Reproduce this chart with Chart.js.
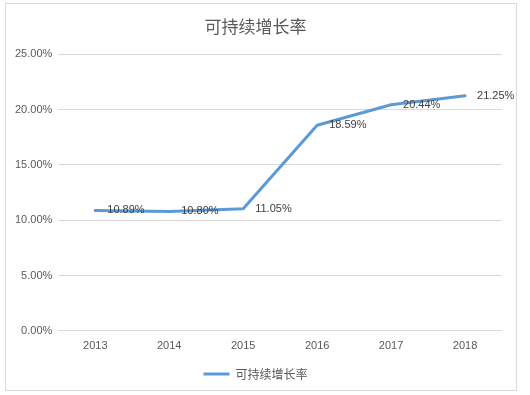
<!DOCTYPE html>
<html>
<head>
<meta charset="utf-8">
<script src="https://cdn.jsdelivr.net/npm/chart.js@4.4.1/dist/chart.umd.min.js"></script>
<style>
  html, body { margin: 0; padding: 0; background: #fff; }
  #box { position: absolute; left: 5px; top: 3px; width: 510px; height: 386px; border: 1px solid #d9d9d9; }
</style>
</head>
<body>
<div id="box"><canvas id="grafico" width="510" height="386"></canvas></div>
<script>
const anos = ['2013', '2014', '2015', '2016', '2017', '2018'];
const taxas = [10.89, 10.80, 11.05, 18.59, 20.44, 21.25];
const titulo = '可持续增长率';

const corTexto = '#595959';
const corLinha = '#5b9bd5';
const fonteNum = "'Liberation Sans', 'Noto Sans CJK SC', sans-serif";
const fonteCJK = "'Noto Sans CJK SC', sans-serif";

// rótulos à direita de cada ponto
const rotulos = {
    id: 'rotulos',
    afterDatasetsDraw(chart) {
        const ctx = chart.ctx;
        const meta = chart.getDatasetMeta(0);
        ctx.save();
        ctx.font = '11px ' + fonteNum;
        ctx.fillStyle = '#404040';
        ctx.textAlign = 'left';
        ctx.textBaseline = 'middle';
        meta.data.forEach((p, i) => {
            ctx.fillText(taxas[i].toFixed(2) + '%', p.x + 12, p.y);
        });
        ctx.restore();
    }
};

new Chart(document.getElementById('grafico'), {
    type: 'line',
    data: {
        labels: anos,
        datasets: [{
            label: titulo,
            data: taxas,
            borderColor: corLinha,
            backgroundColor: corLinha,
            borderWidth: 3,
            pointRadius: 0,
            tension: 0,
            borderJoinStyle: 'round',
            borderCapStyle: 'round'
        }]
    },
    options: {
        responsive: false,
        animation: false,
        layout: { padding: { left: 3, right: 14, top: 0, bottom: 0 } },
        scales: {
            x: {
                offset: true,
                grid: { display: false, drawTicks: false },
                border: { display: false },
                ticks: { color: corTexto, font: { family: fonteNum, size: 11 }, padding: 9 }
            },
            y: {
                min: 0, max: 25,
                ticks: {
                    stepSize: 5,
                    color: corTexto,
                    font: { family: fonteNum, size: 11 },
                    padding: 6,
                    callback: v => v.toFixed(2) + '%'
                },
                grid: { color: '#d9d9d9', drawTicks: false },
                border: { display: false }
            }
        },
        plugins: {
            title: {
                display: true,
                text: titulo,
                color: corTexto,
                font: { family: fonteCJK, size: 17, weight: 'normal' },
                padding: { top: 12, bottom: 18 }
            },
            legend: {
                position: 'bottom',
                labels: {
                    color: corTexto,
                    font: { family: fonteCJK, size: 12 },
                    boxWidth: 26,
                    boxHeight: 3,
                    padding: 6,
                    generateLabels: chart => [{
                        text: titulo,
                        fillStyle: corLinha,
                        strokeStyle: corLinha,
                        lineWidth: 0,
                        fontColor: corTexto
                    }]
                }
            },
            tooltip: { enabled: false }
        }
    },
    plugins: [rotulos]
});
</script>
</body>
</html>
